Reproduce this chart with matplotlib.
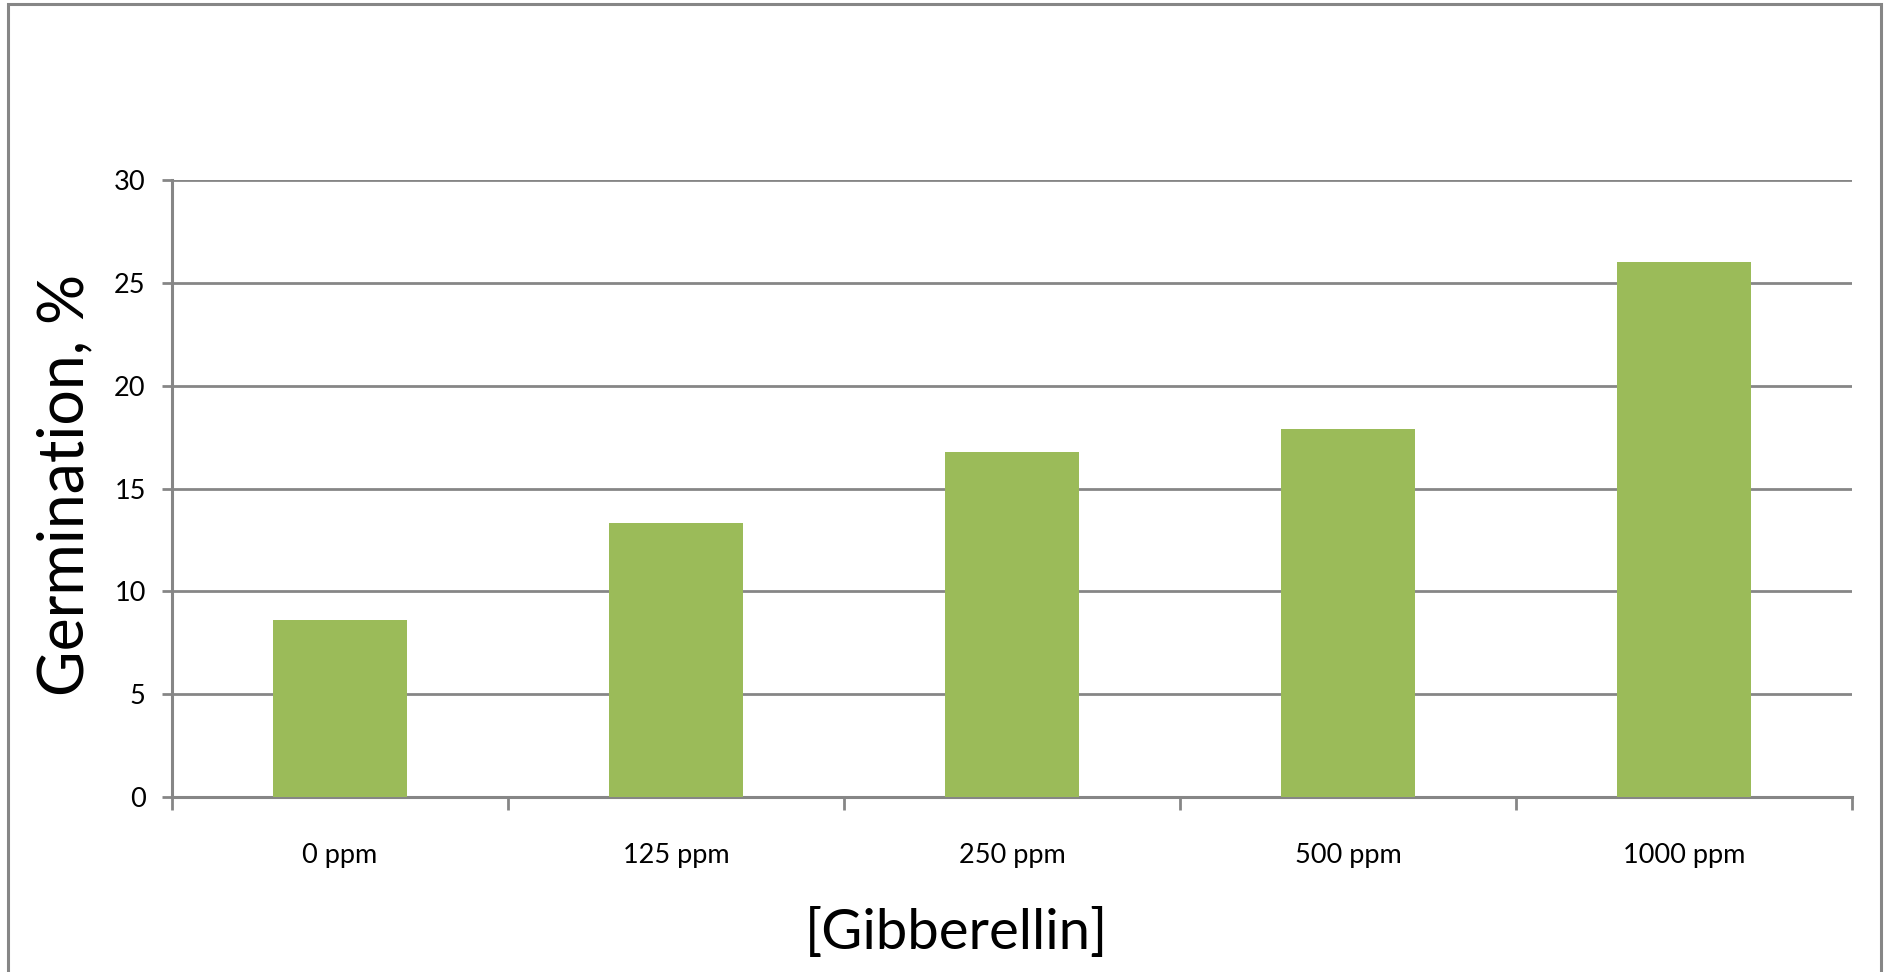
import matplotlib
matplotlib.use('Agg')
import matplotlib.pyplot as plt
from matplotlib.patches import Rectangle

plt.rcParams['font.family'] = ['Lato', 'DejaVu Sans']

categorias = ['0 ppm', '125 ppm', '250 ppm', '500 ppm', '1000 ppm']
germinacion = [8.6, 13.3, 16.8, 17.9, 26.0]
ticks_y = [0, 5, 10, 15, 20, 25, 30]

gris = '#868686'
verde = '#9BBB59'

fig = plt.figure(figsize=(18.89, 9.72), dpi=100)
ax = fig.add_axes([0.0911, 0.180, 0.8893, 0.6348])

x = list(range(len(categorias)))
ax.bar(x, germinacion, width=0.4, color=verde, zorder=3)

ax.set_xlim(-0.5, len(categorias) - 0.5)
ax.set_ylim(0, 30)
ax.set_yticks(ticks_y)
ax.set_xticks([i - 0.5 for i in range(len(categorias) + 1)])
ax.set_xticklabels([])
ax.set_xticks(x, minor=True)
ax.set_xticklabels(categorias, minor=True)

ax.grid(axis='y', color=gris, linewidth=2, zorder=0)
for lado in ['top', 'right']:
    ax.spines[lado].set_visible(False)
for lado in ['left', 'bottom']:
    ax.spines[lado].set_color(gris)
    ax.spines[lado].set_linewidth(2.2)

ax.tick_params(axis='y', which='major', length=7, width=2, color=gris,
               labelsize=19.5, pad=12)
ax.tick_params(axis='x', which='major', length=9, width=2, color=gris)
ax.tick_params(axis='x', which='minor', length=0, labelsize=19.5, pad=33)

fig.text(65 / 1889, 1 - 485 / 972, 'Germination, %', rotation=90,
         ha='center', va='center', fontsize=45)
fig.text(956 / 1889, 1 - 933 / 972, '[Gibberellin]',
         ha='center', va='center', fontsize=40.5)

# marco exterior
marco = Rectangle((8 / 1889, -0.05), (1881 - 8) / 1889, 1.05 - 4 / 972,
                  transform=fig.transFigure, fill=False, edgecolor=gris,
                  linewidth=2.2)
fig.add_artist(marco)

fig.savefig('out.png', dpi=100)
